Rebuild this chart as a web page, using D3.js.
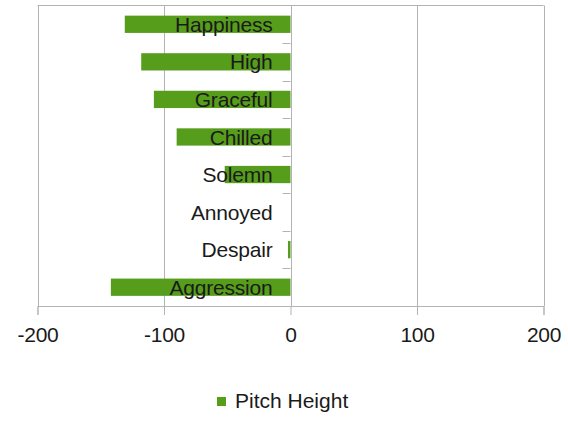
<!DOCTYPE html>
<html>
<head>
<meta charset="utf-8">
<script src="https://cdn.jsdelivr.net/npm/d3@7"></script>
<style>
  body { margin: 0; background: #fff; }
  #chart { width: 568px; height: 421px; }
  text { font-family: "Liberation Sans", Arial, sans-serif; }
</style>
</head>
<body>
<div id="chart"></div>
<script>
const categories = ["Happiness", "High", "Graceful", "Chilled", "Solemn", "Annoyed", "Despair", "Aggression"];
const pitchHeight = [-131, -118, -108, -90, -52, 0, -2, -142];
const xTicks = [-200, -100, 0, 100, 200];
const seriesName = "Pitch Height";

document.addEventListener("DOMContentLoaded", () => {
  const width = 568, height = 421;
  const left = 37.5, right = 543.5, top = 5.5, bottom = 306;
  const barColor = "#579d1c", gridColor = "#b3b3b3";

  const svg = d3.select("#chart")
    .append("svg")
    .attr("width", width)
    .attr("height", height);

  const xScale = d3.scaleLinear()
    .domain([-200, 200])
    .range([left, right]);

  const yScale = d3.scaleBand()
    .domain(categories)
    .range([top, bottom])
    .paddingInner(0.54)
    .paddingOuter(0.27);

  // vertical grid lines
  svg.append("g")
    .selectAll("line")
    .data(xTicks)
    .enter()
    .append("line")
    .attr("x1", d => Math.round(xScale(d)) + 0.5)
    .attr("x2", d => Math.round(xScale(d)) + 0.5)
    .attr("y1", top)
    .attr("y2", bottom)
    .attr("stroke", gridColor);

  // top border
  svg.append("line")
    .attr("x1", left).attr("x2", right)
    .attr("y1", top).attr("y2", top)
    .attr("stroke", gridColor);

  // bars
  svg.append("g")
    .selectAll("rect")
    .data(categories)
    .enter()
    .append("rect")
    .attr("x", (d, i) => xScale(Math.min(0, pitchHeight[i])))
    .attr("y", d => yScale(d))
    .attr("width", (d, i) => Math.abs(xScale(pitchHeight[i]) - xScale(0)))
    .attr("height", yScale.bandwidth())
    .attr("fill", barColor);

  // category ticks at band boundaries on the zero axis
  const step = yScale.step();
  const boundaries = d3.range(1, categories.length).map(i => top + i * step);
  svg.append("g")
    .selectAll("line")
    .data(boundaries)
    .enter()
    .append("line")
    .attr("x1", xScale(0) - 8)
    .attr("x2", xScale(0))
    .attr("y1", d => Math.round(d) + 0.5)
    .attr("y2", d => Math.round(d) + 0.5)
    .attr("stroke", gridColor);

  // category labels
  svg.append("g")
    .selectAll("text")
    .data(categories)
    .enter()
    .append("text")
    .attr("x", xScale(0) - 18)
    .attr("y", d => yScale(d) + yScale.bandwidth() / 2)
    .attr("dy", "0.36em")
    .attr("text-anchor", "end")
    .attr("font-size", "21px")
    .attr("letter-spacing", "-0.2px")
    .attr("fill", "#1a1a1a")
    .text(d => d);

  // x axis
  const xAxis = d3.axisBottom(xScale)
    .tickValues(xTicks)
    .tickSize(9)
    .tickPadding(12)
    .tickFormat(d => String(d));

  const xAxisG = svg.append("g")
    .attr("class", "axis")
    .attr("transform", `translate(0,${bottom})`)
    .call(xAxis);

  xAxisG.select(".domain").attr("stroke", gridColor);
  xAxisG.selectAll(".tick line").attr("stroke", gridColor);
  xAxisG.selectAll(".tick text")
    .attr("font-size", "21px")
    .attr("letter-spacing", "-0.3px")
    .attr("fill", "#1a1a1a")
    .style("font-family", "'Liberation Sans', Arial, sans-serif");

  // legend
  const legend = svg.append("g").attr("transform", "translate(217,397)");
  legend.append("rect")
    .attr("width", 9)
    .attr("height", 9)
    .attr("fill", barColor);
  legend.append("text")
    .attr("x", 18)
    .attr("y", 10)
    .attr("dy", "0.05em")
    .attr("font-size", "21px")
    .attr("fill", "#1a1a1a")
    .text(seriesName);
});
</script>
</body>
</html>
